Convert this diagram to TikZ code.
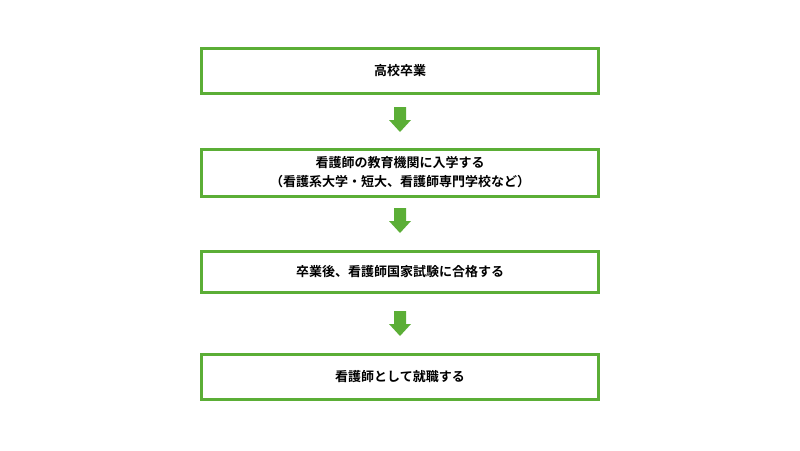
\documentclass[tikz,border=0pt]{standalone}
\usepackage{fontspec}
\setmainfont{Noto Sans CJK JP}[BoldFont={* Bold}]
\definecolor{gr}{HTML}{5BAE36}
\begin{document}
\begin{tikzpicture}[x=1pt,y=-1pt,
  stepbox/.style={draw=gr,line width=3pt,minimum width=397pt,inner sep=0pt,align=center,font=\fontsize{13}{19}\selectfont\bfseries},
  garrow/.style={fill=gr,draw=none}]
\useasboundingbox (0,0) rectangle (800,450);
\node[stepbox,minimum height=45pt] (a) at (400,70.5) {高校卒業};
\node[stepbox,minimum height=47pt] (b) at (400,172.5) {看護師の教育機関に入学する\\（看護系大学・短大、看護師専門学校など）};
\node[stepbox,minimum height=41pt] (c) at (400,271.5) {卒業後、看護師国家試験に合格する};
\node[stepbox,minimum height=45pt] (d) at (400,376.5) {看護師として就職する};
\foreach \y in {107,208,311}{
  \fill[gr] (394,\y) -- (406,\y) -- (406,\y+13) -- (411,\y+13) -- (400,\y+25) -- (389,\y+13) -- (394,\y+13) -- cycle;
}
\end{tikzpicture}
\end{document}
